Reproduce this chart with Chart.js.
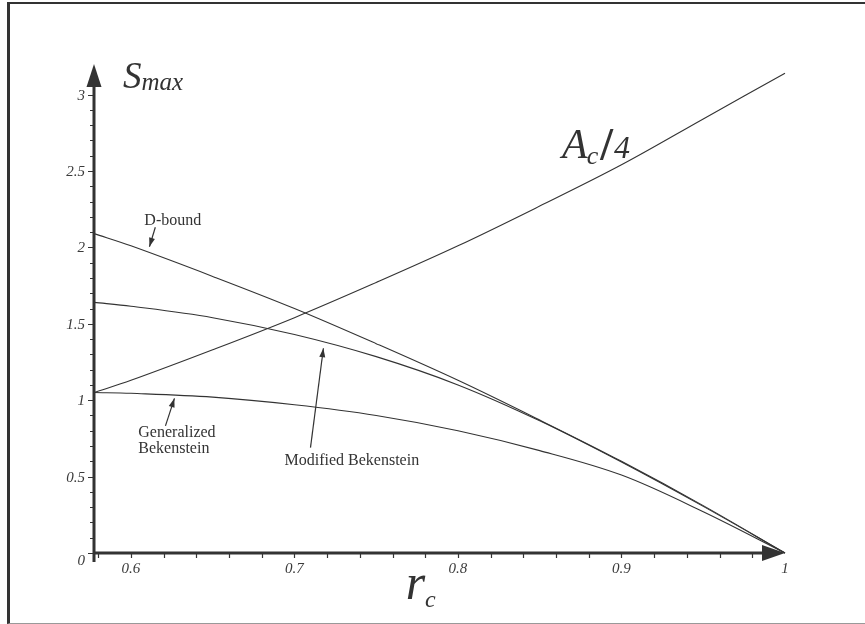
<!DOCTYPE html>
<html>
<head>
<meta charset="utf-8">
<script src="https://cdn.jsdelivr.net/npm/chart.js@4.4.1/dist/chart.umd.min.js"></script>
<style>
  html, body { margin: 0; padding: 0; background: #fff; }
  #wrap { position: relative; width: 865px; height: 624px; }
  #frame { position: absolute; left: 7px; top: 2px; width: 858px; height: 622px; box-sizing: border-box;
           border-left: 3px solid #333; border-top: 2px solid #333; border-bottom: 1px solid #999; }
  canvas { position: absolute; left: 0; top: 0; }
</style>
</head>
<body>
<div id="wrap">
  <div id="frame"></div>
  <canvas id="chart" width="865" height="624"></canvas>
</div>
<script>
const rc = [0.5774, 0.6, 0.65, 0.7, 0.75, 0.8, 0.85, 0.9, 0.95, 1.0]
const areaQuarter = [1.05, 1.13, 1.33, 1.54, 1.77, 2.01, 2.27, 2.54, 2.84, 3.14]
const dBound = [2.09, 2.01, 1.81, 1.60, 1.37, 1.13, 0.87, 0.60, 0.31, 0]
const modifiedBek = [1.64, 1.615, 1.54, 1.43, 1.285, 1.10, 0.865, 0.595, 0.305, 0]
const generalizedBek = [1.05, 1.045, 1.02, 0.97, 0.90, 0.80, 0.67, 0.51, 0.27, 0]

const xTickLabels = ['0.6', '0.7', '0.8', '0.9', '1']
const yTickLabels = ['0', '0.5', '1', '1.5', '2', '2.5', '3']

// little labels with arrows, anchored in data units
const notes = [
  { lines: ['D-bound'], at: [0.6082, 2.148], from: [0.6149, 2.132], to: [0.6113, 2.004] },
  { lines: ['Generalized', 'Bekenstein'], at: [0.6045, 0.760], from: [0.6211, 0.832], to: [0.6266, 1.012] },
  { lines: ['Modified Bekenstein'], at: [0.6939, 0.576], from: [0.7098, 0.690], to: [0.7177, 1.340] }
]

const serif = '"Liberation Serif", "DejaVu Serif", serif'
const ink = '#333'

const pts = arr => rc.map((r, i) => ({ x: r, y: arr[i] }))

function arrowHead(ctx, x1, y1, x2, y2, len, half) {
  const a = Math.atan2(y2 - y1, x2 - x1)
  ctx.beginPath()
  ctx.moveTo(x2, y2)
  ctx.lineTo(x2 - len * Math.cos(a) + half * Math.sin(a), y2 - len * Math.sin(a) - half * Math.cos(a))
  ctx.lineTo(x2 - len * Math.cos(a) - half * Math.sin(a), y2 - len * Math.sin(a) + half * Math.cos(a))
  ctx.closePath()
  ctx.fill()
}

// draws text pieces one after another: [text, font, dy, gapAfter]
function runText(ctx, x, y, parts) {
  for (const [t, font, dy, gap] of parts) {
    ctx.font = font
    ctx.fillText(t, x, y + dy)
    x += ctx.measureText(t).width + (gap || 0)
  }
}

const mapleAxes = {
  id: 'mapleAxes',
  afterDatasetsDraw(chart) {
    const { ctx, scales: { x, y } } = chart
    const x0 = x.getPixelForValue(x.min)
    const y0 = y.getPixelForValue(0)
    const xEnd = x.getPixelForValue(x.max)
    const yEnd = y.getPixelForValue(y.max)
    ctx.save()
    ctx.strokeStyle = ink
    ctx.fillStyle = ink

    // axis lines + arrows
    ctx.lineWidth = 3
    ctx.beginPath()
    ctx.moveTo(x0, y0 + 9); ctx.lineTo(x0, yEnd + 20)
    ctx.moveTo(x0, y0); ctx.lineTo(xEnd - 20, y0)
    ctx.stroke()
    arrowHead(ctx, x0, y0, x0, yEnd, 23, 7.5)
    arrowHead(ctx, x0, y0, xEnd, y0, 23, 8)

    // ticks
    ctx.lineWidth = 1.2
    ctx.beginPath()
    for (let i = 0; i <= 30; i++) {
      const py = Math.round(y.getPixelForValue(i / 10)) + 0.5
      const len = i % 5 === 0 ? 6 : 4
      ctx.moveTo(x0 - len, py); ctx.lineTo(x0, py)
    }
    for (let i = 29; i <= 49; i++) {
      const px = Math.round(x.getPixelForValue(i / 50)) + 0.5
      ctx.moveTo(px, y0); ctx.lineTo(px, y0 + 5)
    }
    ctx.stroke()

    // tick labels
    ctx.fillStyle = '#3a3a3a'
    ctx.font = 'italic 15px ' + serif
    ctx.textAlign = 'right'
    ctx.textBaseline = 'middle'
    for (const t of yTickLabels) {
      const v = parseFloat(t)
      ctx.fillText(t, x0 - 9, y.getPixelForValue(v) + (v === 0 ? 8 : 1))
    }
    ctx.textAlign = 'center'
    ctx.textBaseline = 'alphabetic'
    for (const t of xTickLabels) {
      ctx.fillText(t, x.getPixelForValue(parseFloat(t)), y0 + 20)
    }

    // axis titles and curve label
    ctx.fillStyle = ink
    ctx.textAlign = 'left'
    runText(ctx, x.getPixelForValue(0.5951), y.getPixelForValue(3.045), [
      ['S', 'italic 37px ' + serif, 0],
      ['max', 'italic 25px ' + serif, 2]
    ])
    runText(ctx, x.getPixelForValue(0.7680), y.getPixelForValue(-0.301), [
      ['r', 'italic 50px ' + serif, 0],
      ['c', 'italic 24px ' + serif, 8]
    ])
    runText(ctx, x.getPixelForValue(0.8636), y.getPixelForValue(2.587), [
      ['A', 'italic 42px ' + serif, 0, -1],
      ['c', 'italic 26px ' + serif, 6, 2],
      ['/', 'bold 46px ' + serif, 2, 1],
      ['4', 'italic 32px ' + serif, 0]
    ])

    // annotations
    ctx.font = '16px ' + serif
    ctx.lineWidth = 1.2
    for (const n of notes) {
      const tx = x.getPixelForValue(n.at[0]), ty = y.getPixelForValue(n.at[1])
      n.lines.forEach((l, i) => ctx.fillText(l, tx, ty + i * 16))
      const fx = x.getPixelForValue(n.from[0]), fy = y.getPixelForValue(n.from[1])
      const ex = x.getPixelForValue(n.to[0]), ey = y.getPixelForValue(n.to[1])
      ctx.beginPath(); ctx.moveTo(fx, fy); ctx.lineTo(ex, ey); ctx.stroke()
      arrowHead(ctx, fx, fy, ex, ey, 9, 3)
    }
    ctx.restore()
  }
}

new Chart(document.getElementById('chart'), {
  type: 'line',
  data: {
    datasets: [
      { label: 'A_c/4', data: pts(areaQuarter) },
      { label: 'D-bound', data: pts(dBound) },
      { label: 'Modified Bekenstein', data: pts(modifiedBek) },
      { label: 'Generalized Bekenstein', data: pts(generalizedBek) }
    ]
  },
  options: {
    responsive: false,
    animation: false,
    devicePixelRatio: 1,
    layout: { padding: { left: 94, right: 80, top: 64, bottom: 71 } },
    scales: {
      x: { type: 'linear', min: 0.5774, max: 1, display: false },
      y: { type: 'linear', min: 0, max: 3.2, display: false }
    },
    datasets: { line: { clip: false } },
    elements: {
      point: { radius: 0 },
      line: { borderWidth: 1.1, borderColor: ink, tension: 0.35, fill: false }
    },
    plugins: { legend: { display: false }, tooltip: { enabled: false } }
  },
  plugins: [mapleAxes]
})
</script>
</body>
</html>
